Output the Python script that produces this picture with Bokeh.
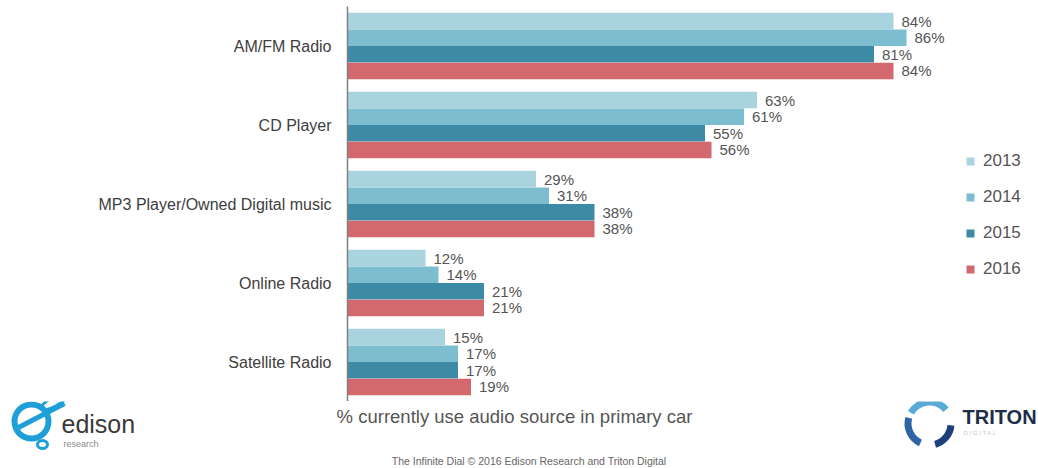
import math
from bokeh.plotting import figure
from bokeh.layouts import column, row
from bokeh.models import ColumnDataSource, Legend, LegendItem, FactorRange, Range1d
from bokeh.transform import dodge
from bokeh.core.properties import value
from bokeh.embed import file_html
from bokeh.resources import INLINE

categories = ["AM/FM Radio", "CD Player", "MP3 Player/Owned Digital music",
              "Online Radio", "Satellite Radio"]
years = ["2013", "2014", "2015", "2016"]
v2013 = [84, 63, 29, 12, 15]
v2014 = [86, 61, 31, 14, 17]
v2015 = [81, 55, 38, 21, 17]
v2016 = [84, 56, 38, 21, 19]
series = [v2013, v2014, v2015, v2016]
colors = ["#a9d3df", "#7cbdd0", "#3c8aa6", "#d3686f"]

caption = "% currently use audio source in primary car"
footer = "The Infinite Dial  \u00a9 2016 Edison Research and Triton Digital"

FONT = "Liberation Sans"
W = 1038

p = figure(width=W, height=401,
           y_range=FactorRange(factors=categories[::-1]),
           x_range=(0, (W - 347) / 6.5),
           output_backend="svg", toolbar_location=None,
           min_border_left=347, min_border_right=0,
           min_border_top=6, min_border_bottom=0)

offsets = [0.315, 0.105, -0.105, -0.315]
items = []
for yr, vals, col, off in zip(years, series, colors, offsets):
    src = ColumnDataSource(dict(cat=categories, val=vals,
                                lab=[f"{v}%" for v in vals]))
    r = p.hbar(y=dodge("cat", off, range=p.y_range), left=0, right="val",
               height=0.209, source=src, fill_color=col, line_color=None)
    p.text(x="val", y=dodge("cat", off, range=p.y_range), text="lab",
           source=src, x_offset=8, text_baseline="middle", text_align="left",
           text_font=value(FONT), text_font_size="15px", text_color="#555555")
    items.append(LegendItem(label=yr, renderers=[r]))

legend = Legend(items=items, location=(618, 122), orientation="vertical",
                glyph_width=10, glyph_height=10, label_standoff=8,
                label_height=20, spacing=16, padding=0, margin=0,
                label_text_font=FONT, label_text_font_size="17px",
                label_text_color="#555555", border_line_color=None,
                background_fill_alpha=0)
p.add_layout(legend)

p.xaxis.visible = False
p.xgrid.grid_line_color = None
p.ygrid.grid_line_color = None
p.outline_line_color = None
p.yaxis.axis_line_color = "#808080"
p.yaxis.axis_line_width = 1.5
p.yaxis.major_tick_line_color = None
p.yaxis.minor_tick_line_color = None
p.yaxis.major_label_standoff = 10
p.yaxis.major_label_text_font = FONT
p.yaxis.major_label_text_font_size = "16px"
p.yaxis.major_label_text_color = "#404040"

# bottom strip: caption, footer and logos (pixel-like coordinates, y down)
QH = 67
q = figure(width=W, height=QH, x_range=Range1d(0, W), y_range=Range1d(QH, 0),
           output_backend="svg", toolbar_location=None,
           min_border_left=0, min_border_right=0, min_border_top=0, min_border_bottom=0)
q.axis.visible = False
q.grid.grid_line_color = None
q.outline_line_color = None

def t(x, y, text, size, color, style="normal", align="left", baseline="middle"):
    q.text(x=[x], y=[y], text=[text], text_font=value(FONT), text_font_size=size,
           text_color=color, text_font_style=style, text_align=align,
           text_baseline=baseline)

t(514, 15, caption, "18.5px", "#555555", align="center")
t(530, 59, footer, "10.5px", "#666666", align="center")

# edison logo
q.annulus(x=[31], y=[20], inner_radius=14, outer_radius=20, fill_color="#1e9fd8", line_color=None)
q.segment(x0=[18], y0=[26], x1=[64], y1=[2], line_color="#1e9fd8", line_width=5)
q.ellipse(x=[54], y=[0], width=30, height=9, angle=0.5, fill_color=None,
          line_color="#1e9fd8", line_width=3)
q.ellipse(x=[42], y=[43], width=10, height=8, fill_color=None,
          line_color="#1e9fd8", line_width=3)
t(61, 22, "edison", "25px", "#3a3a3a")
t(63, 42, "research", "9px", "#8a8a8a")

# triton logo
q.annular_wedge(x=[929, 929, 929], y=[22, 22, 22], inner_radius=18, outer_radius=25,
                start_angle=[math.radians(a) for a in (40, 165, 285)],
                end_angle=[math.radians(a) for a in (150, 245, 355)],
                fill_color=["#5aaad8", "#2f64a8", "#1f3f7a"], line_color=None)
t(962, 15, "TRITON", "20px", "#1d2d4a", style="bold")
t(963, 31, "D I G I T A L", "6px", "#c8c8c8")

layout = column(p, row(q), spacing=0)
open("out.html", "w").write(file_html(layout, INLINE))
